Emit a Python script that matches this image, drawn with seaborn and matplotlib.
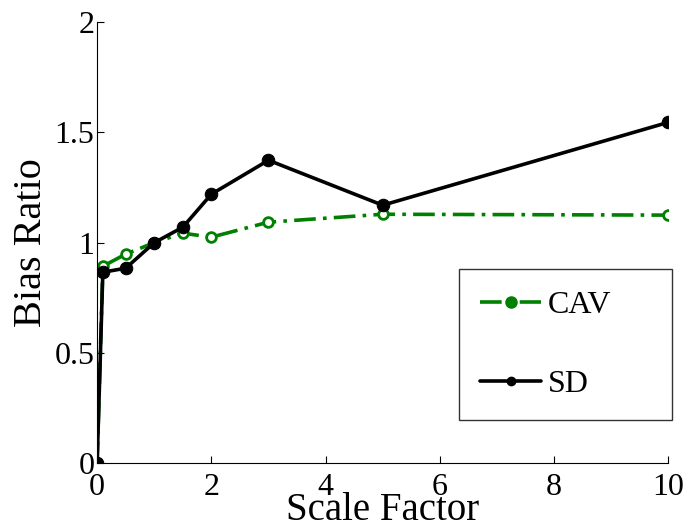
import matplotlib
matplotlib.use("Agg")
import matplotlib.pyplot as plt
import seaborn as sns
import pandas as pd
from matplotlib.lines import Line2D

scale_sd = [0, 0.1, 0.5, 1, 1.5, 2, 3, 5, 10]
bias_sd = [0, 0.866, 0.884, 1.0, 1.07, 1.22, 1.374, 1.17, 1.546]
scale_cav = [0, 0.1, 0.5, 1, 1.5, 2, 3, 5, 10]
bias_cav = [0, 0.893, 0.948, 1.0, 1.043, 1.025, 1.093, 1.129, 1.125]

sns.set_style("white")
plt.rcParams['font.family'] = ['Liberation Serif', 'DejaVu Serif']
plt.rcParams['text.color'] = 'black'
plt.rcParams['axes.labelcolor'] = 'black'
plt.rcParams['xtick.color'] = 'black'
plt.rcParams['ytick.color'] = 'black'

fig = plt.figure(figsize=(6.84, 5.31), dpi=100)
ax = fig.add_axes([0.142, 0.128, 0.835, 0.830])

df_cav = pd.DataFrame({"x": scale_cav, "y": bias_cav})
df_sd = pd.DataFrame({"x": scale_sd, "y": bias_sd})

sns.lineplot(data=df_cav, x="x", y="y", ax=ax, color="#008000", lw=2.6,
             marker="o", markersize=7, markerfacecolor="white",
             markeredgecolor="#008000", markeredgewidth=2,
             dashes=False, linestyle=(0, (6, 2, 1, 2)), zorder=2)
sns.lineplot(data=df_sd, x="x", y="y", ax=ax, color="black", lw=2.6,
             marker="o", markersize=9, markerfacecolor="black",
             markeredgecolor="black", zorder=3)

ax.set_xlim(0, 10)
ax.set_ylim(0, 2)
ax.set_xticks([0, 2, 4, 6, 8, 10])
ax.set_yticks([0, 0.5, 1, 1.5, 2])
ax.set_yticklabels(["0", "0.5", "1", "1.5", "2"])
ax.tick_params(direction="in", length=5, width=0.8, labelsize=23,
               bottom=True, left=True)
ax.tick_params(axis="x", pad=7)
ax.tick_params(axis="y", pad=2)
ax.set_xlabel("Scale Factor", fontsize=28, labelpad=-7)
ax.set_ylabel("Bias Ratio", fontsize=29, labelpad=3)
for s in ["top", "right"]:
    ax.spines[s].set_visible(False)
for s in ["left", "bottom"]:
    ax.spines[s].set_color("black")
    ax.spines[s].set_linewidth(0.8)

handles = [
    Line2D([], [], color="#008000", lw=2.6, linestyle=(0, (6, 2, 1, 2)),
           marker="o", markersize=8, markerfacecolor="#008000"),
    Line2D([], [], color="black", lw=2.6, marker="o", markersize=6,
           markerfacecolor="black"),
]
leg = ax.legend(handles, ["CAV", "SD"], loc="lower left",
                bbox_to_anchor=(0.634, 0.0975, 0.373, 0.345), mode="expand",
                fontsize=23, frameon=True,
                fancybox=False, edgecolor="black", handlelength=1.9,
                labelspacing=1.56, borderpad=0.66, handletextpad=0.2,
                borderaxespad=0)
leg.get_frame().set_linewidth(1.0)

fig.savefig("out.png", dpi=100)
